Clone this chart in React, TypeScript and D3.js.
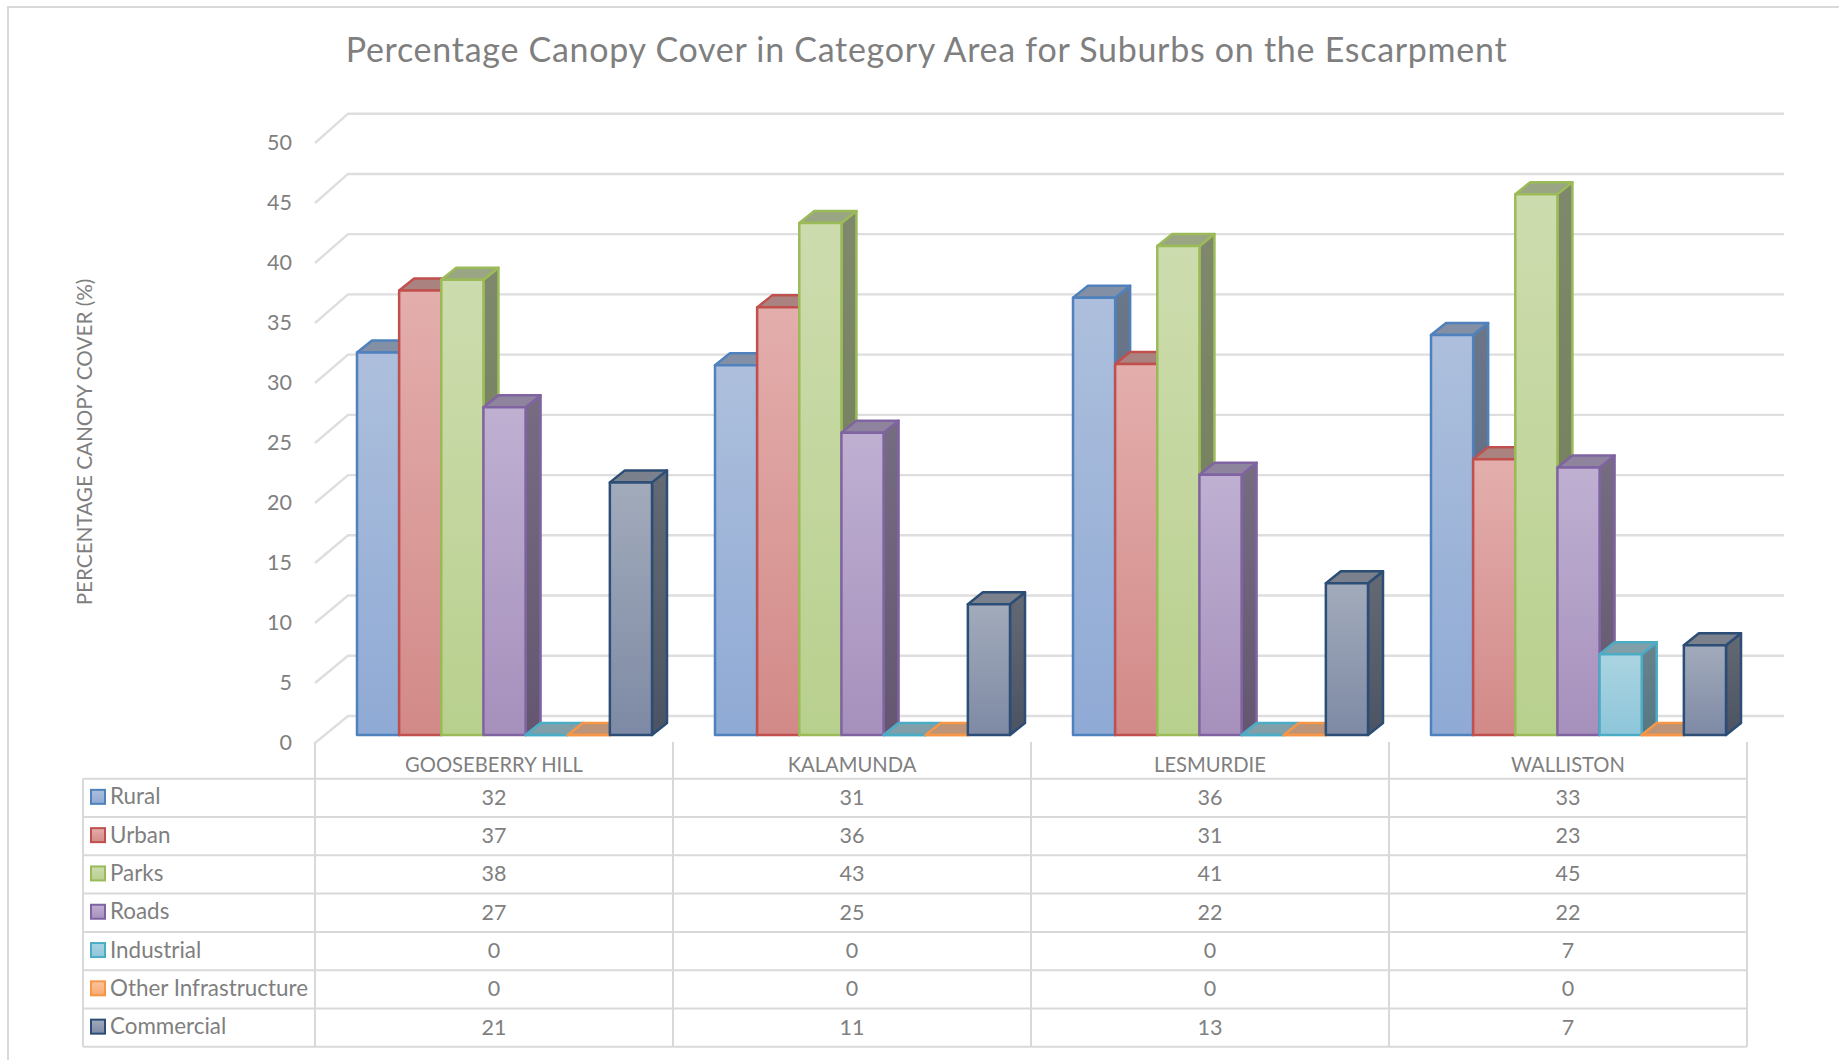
import React, { useEffect, useRef } from "react";
import * as d3 from "d3";

const suburbs = ["GOOSEBERRY HILL", "KALAMUNDA", "LESMURDIE", "WALLISTON"];
const seriesNames = ["Rural", "Urban", "Parks", "Roads", "Industrial", "Other Infrastructure", "Commercial"];

// bar heights, the table shows them rounded
const rural = [31.75, 30.7, 36.3, 33.2];
const urban = [36.9, 35.5, 30.8, 22.9];
const parks = [37.8, 42.5, 40.6, 44.9];
const roads = [27.2, 25.1, 21.6, 22.2];
const industrial = [0, 0, 0, 6.7];
const otherInfra = [0, 0, 0, 0];
const commercial = [20.97, 10.85, 12.6, 7.45];
const seriesValues = [rural, urban, parks, roads, industrial, otherInfra, commercial];

const yTicks = [0, 5, 10, 15, 20, 25, 30, 35, 40, 45, 50];

const strokes = ["#4f81bd", "#c0504d", "#9bbb59", "#8064a2", "#4bacc6", "#f79646", "#2c4d75"];
const gradTop = ["#adbfdc", "#e3aeac", "#cddcae", "#bfb0d2", "#abd4e1", "#fcc5a0", "#a2abbb"];
const gradBottom = ["#8faad5", "#d28a88", "#b8d08e", "#a690bc", "#8ec6da", "#f9a96f", "#7e8aa5"];

const FONT = "Lato, 'Open Sans', sans-serif";
const GREY = "#7f7f7f";
const LINE = "#d9d9d9";

const shade = (c: string, k: number) => {
  const r = d3.rgb(c);
  return d3.rgb(r.r * k, r.g * k, r.b * k).formatHex();
};

const App: React.FC = () => {
  const svgRef = useRef<SVGSVGElement>(null);

  useEffect(() => {
    if (!svgRef.current) return;
    const svg = d3.select(svgRef.current);
    svg.selectAll("*").remove();

    const tableLeft = 83;
    const tableTop = 778.7;
    const rowH = 38.3;

    const x = d3.scaleBand<string>().domain(suburbs).range([315, 1747]);
    const inner = d3
      .scaleBand<string>()
      .domain(seriesNames)
      .range([42, 337]);

    // y on the back wall; the front of the axis and the bar fronts are shifted towards the viewer
    const yBack = d3.scaleLinear().domain([0, 50]).range([716, 113.7]);
    const yWall = d3.scaleLinear().domain([0, 50]).range([743, 143]);
    const yBar = d3.scaleLinear().domain([0, 50]).range([735, 132.7]);

    const barDx = 15;
    const barDy = 12;
    const line = d3.line<[number, number]>().curve(d3.curveLinearClosed);

    // frame
    const frame = svg.append("g").attr("fill", "none").attr("stroke", LINE).attr("stroke-width", 2);
    frame.append("path").attr("d", "M8,1060V7H1839");

    // gradients
    const defs = svg.append("defs");
    const addGrad = (id: string, top: string, bottom: string) => {
      const g = defs.append("linearGradient").attr("id", id).attr("x1", 0).attr("y1", 0).attr("x2", 0).attr("y2", 1);
      g.append("stop").attr("offset", "0%").attr("stop-color", top);
      g.append("stop").attr("offset", "100%").attr("stop-color", bottom);
    };
    seriesNames.forEach((_, i) => {
      addGrad(`front${i}`, gradTop[i], gradBottom[i]);
      addGrad(`side${i}`, shade(gradTop[i], 0.62), shade(gradBottom[i], 0.6));
    });

    // gridlines
    const grid = svg.append("g").attr("fill", "none").attr("stroke", "#dedede").attr("stroke-width", 2.4);
    yTicks.forEach((t) => {
      grid
        .append("path")
        .attr("d", `M315,${yWall(t)}L348,${yBack(t)}H1784`);
    });

    // y axis labels
    const axis = svg
      .append("g")
      .attr("transform", "translate(292,0)")
      .call(d3.axisLeft(yWall).tickValues(yTicks).tickSize(0).tickPadding(0));
    axis.select(".domain").remove();
    axis.selectAll("text").attr("font-family", FONT).attr("font-size", 21.5).attr("fill", GREY);

    // bars, left to right so each one covers its neighbour's side
    suburbs.forEach((s, c) => {
      seriesNames.forEach((name, i) => {
        const v = seriesValues[i][c];
        const x0 = (x(s) as number) + (inner(name) as number);
        const x1 = x0 + inner.bandwidth();
        const y0 = yBar(0);
        const y1 = yBar(v);
        const g = svg
          .append("g")
          .attr("stroke", strokes[i])
          .attr("stroke-width", 2.5)
          .attr("stroke-linejoin", "round");
        g.append("path")
          .attr("d", line([[x1, y0], [x1 + barDx, y0 - barDy], [x1 + barDx, y1 - barDy], [x1, y1]]))
          .attr("fill", `url(#side${i})`);
        g.append("path")
          .attr("d", line([[x0, y1], [x0 + barDx, y1 - barDy], [x1 + barDx, y1 - barDy], [x1, y1]]))
          .attr("fill", shade(gradTop[i], 0.75));
        g.append("path")
          .attr("d", line([[x0, y0], [x0, y1], [x1, y1], [x1, y0]]))
          .attr("fill", v > 0 ? `url(#front${i})` : "none");
      });
    });

    // data table
    const table = svg.append("g").attr("fill", "none").attr("stroke", LINE).attr("stroke-width", 2);
    d3.range(seriesNames.length + 1).forEach((r) => {
      const yy = tableTop + r * rowH;
      table.append("line").attr("x1", tableLeft).attr("x2", 1747).attr("y1", yy).attr("y2", yy);
    });
    const tableBottom = tableTop + seriesNames.length * rowH;
    table.append("line").attr("x1", tableLeft).attr("x2", tableLeft).attr("y1", tableTop).attr("y2", tableBottom);
    [...suburbs.map((s) => x(s) as number), 1747].forEach((xx) => {
      table.append("line").attr("x1", xx).attr("x2", xx).attr("y1", 742).attr("y2", tableBottom);
    });

    const txt = svg
      .append("g")
      .attr("font-family", FONT)
      .attr("font-size", 21.5)
      .attr("fill", GREY)
      .attr("dominant-baseline", "central");

    suburbs.forEach((s, c) => {
      const cx = (x(s) as number) + x.bandwidth() / 2;
      txt.append("text").attr("x", cx).attr("y", 763.5).attr("text-anchor", "middle").attr("font-size", 20.2).text(s);
      seriesNames.forEach((_, i) => {
        txt
          .append("text")
          .attr("x", cx)
          .attr("y", tableTop + (i + 0.5) * rowH - 1)
          .attr("text-anchor", "middle")
          .text(d3.format(".0f")(seriesValues[i][c]));
      });
    });

    seriesNames.forEach((name, i) => {
      const cy = tableTop + (i + 0.5) * rowH;
      svg
        .append("rect")
        .attr("x", 91)
        .attr("y", cy - 8)
        .attr("width", 14)
        .attr("height", 14)
        .attr("fill", `url(#front${i})`)
        .attr("stroke", strokes[i])
        .attr("stroke-width", 2);
      txt.append("text").attr("x", 110).attr("y", cy - 2).attr("font-size", 22.4).text(name);
    });

    // titles
    svg
      .append("text")
      .attr("x", 926.5)
      .attr("y", 62)
      .attr("text-anchor", "middle")
      .attr("font-family", FONT)
      .attr("font-size", 34)
      .attr("letter-spacing", 0.72)
      .attr("fill", GREY)
      .text("Percentage Canopy Cover in Category Area for Suburbs on the Escarpment");

    svg
      .append("text")
      .attr("transform", "translate(84,442) rotate(-90)")
      .attr("text-anchor", "middle")
      .attr("dominant-baseline", "central")
      .attr("font-family", FONT)
      .attr("font-size", 20.7)
      .attr("fill", GREY)
      .text("PERCENTAGE CANOPY COVER (%)");
  }, []);

  return (
    <svg
      ref={svgRef}
      width={1839}
      height={1060}
      style={{ position: "absolute", left: 0, top: 0, background: "#fff" }}
    />
  );
};

export default App;
